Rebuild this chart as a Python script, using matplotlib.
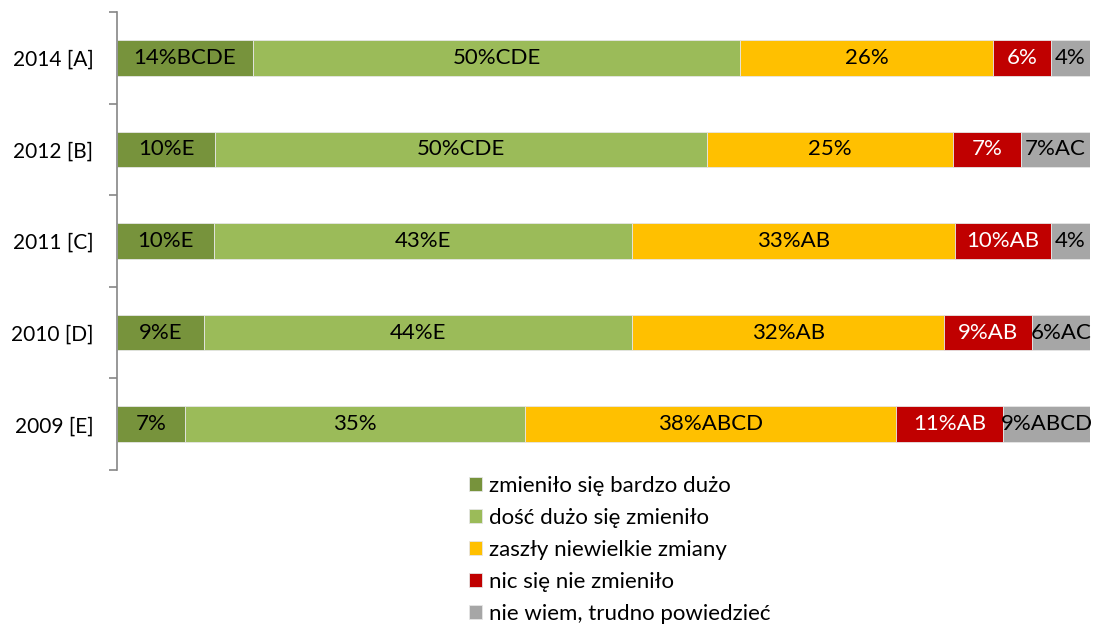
import numpy as np
import matplotlib.pyplot as plt

# data
years = ['2014 [A]', '2012 [B]', '2011 [C]', '2010 [D]', '2009 [E]']
series = ['zmieniło się bardzo dużo', 'dość dużo się zmieniło', 'zaszły niewielkie zmiany',
          'nic się nie zmieniło', 'nie wiem, trudno powiedzieć']
bardzo = [13.98, 10.07, 9.97, 8.94, 6.99]
dosc = [50.05, 50.57, 42.96, 44.0, 34.94]
niewielkie = [26.0, 25.28, 33.2, 32.07, 38.13]
nic = [5.96, 6.99, 9.87, 9.04, 11.0]
nie_wiem = [4.0, 7.09, 4.0, 5.96, 8.94]
labels = [
    ['14%BCDE', '10%E', '10%E', '9%E', '7%'],
    ['50%CDE', '50%CDE', '43%E', '44%E', '35%'],
    ['26%', '25%', '33%AB', '32%AB', '38%ABCD'],
    ['6%', '7%', '10%AB', '9%AB', '11%AB'],
    ['4%', '7%AC', '4%', '6%AC', '9%ABCD'],
]

colors = ['#77933C', '#9BBB59', '#FFC000', '#C00000', '#A6A6A6']
txt_colors = ['black', 'black', 'black', 'white', 'black']

plt.rcParams['font.family'] = ['Lato', 'DejaVu Sans']

fig = plt.figure(figsize=(11, 6.26), dpi=100)
ax = fig.add_axes([117 / 1100, 1 - 470 / 626, (1090 - 117) / 1100, (470 - 12) / 626])

y = np.arange(len(years))
left = np.zeros(len(years))
vals = [bardzo, dosc, niewielkie, nic, nie_wiem]
for k, v in enumerate(vals):
    v = np.array(v)
    ax.barh(y, v, left=left, height=0.39, color=colors[k], edgecolor='#e6e6e6',
            linewidth=0.6, label=series[k])
    for i in range(len(years)):
        ax.text(left[i] + v[i] / 2, y[i], labels[k][i], ha='center', va='center',
                fontsize=16, color=txt_colors[k], clip_on=False)
    left += v

# axes
ax.set_xlim(0, 100)
ax.set_ylim(len(years) - 0.5, -0.5)
ax.set_xticks([])
ax.set_yticks(y)
ax.set_yticklabels(years, fontsize=15)
ax.set_yticks(np.arange(-0.5, len(years)), minor=True)
ax.tick_params(axis='y', which='major', length=0, pad=17)
ax.tick_params(axis='y', which='minor', length=6, width=1.2, color='#868686')
for s in ['top', 'right', 'bottom']:
    ax.spines[s].set_visible(False)
ax.spines['left'].set_color('#868686')
ax.spines['left'].set_linewidth(1.2)

# legend
fig.legend(loc='upper left', bbox_to_anchor=(460 / 1100, 1 - 467 / 626), frameon=False,
           fontsize=16, handlelength=0.6, handleheight=0.6, handletextpad=0.3,
           labelspacing=0.54, borderaxespad=0)

fig.savefig('out.png', dpi=100)
